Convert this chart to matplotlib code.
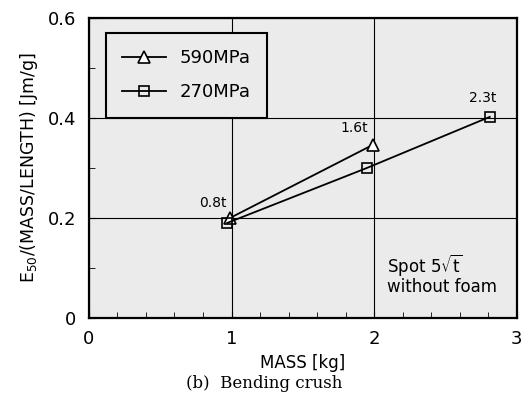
import matplotlib.pyplot as plt
from matplotlib.ticker import MultipleLocator

# data
mass_590 = [0.99, 1.99]
e50_590 = [0.200, 0.346]
mass_270 = [0.97, 1.95, 2.81]
e50_270 = [0.190, 0.300, 0.402]

thick_labels = ['0.8t', '1.6t', '2.3t']
thick_x = [0.87, 1.86, 2.76]
thick_y = [0.23, 0.38, 0.44]

fig = plt.figure(figsize=(5.29, 3.96), dpi=100)
ax = fig.add_axes([0.168, 0.197, 0.809, 0.758])
ax.set_facecolor('#ebebeb')

ax.plot(mass_590, e50_590, color='black', lw=1.3, marker='^', ms=8,
        mfc='white', mec='black', mew=1.2, label='590MPa')
ax.plot(mass_270, e50_270, color='black', lw=1.3, marker='s', ms=7.5,
        mfc='none', mec='black', mew=1.2, label='270MPa')

for lab, x, y in zip(thick_labels, thick_x, thick_y):
    ax.text(x, y, lab, fontsize=10, ha='center', va='center')

ax.text(2.09, 0.088, 'Spot 5$\\sqrt{\\mathrm{t}}$\nwithout foam', fontsize=12,
        ha='left', va='center', linespacing=1.05)

ax.set_xlim(0, 3)
ax.set_ylim(0, 0.6)
ax.xaxis.set_minor_locator(MultipleLocator(0.2))
ax.yaxis.set_minor_locator(MultipleLocator(0.1))
ax.set_xticks([0, 1, 2, 3])
ax.set_xticklabels(['0', '1', '2', '3'])
ax.set_yticks([0, 0.2, 0.4, 0.6])
ax.set_yticklabels(['0', '0.2', '0.4', '0.6'])
ax.tick_params(which='both', direction='in', top=False, right=False)
ax.tick_params(which='major', length=5, labelsize=13, pad=9)
ax.tick_params(which='minor', length=4)
ax.grid(which='major', color='black', lw=0.8)
for s in ax.spines.values():
    s.set_linewidth(1.6)

ax.set_ylabel('E$_{50}$/(MASS/LENGTH) [Jm/g]', fontsize=12.5, labelpad=6)
ax.set_xlabel('MASS [kg]', fontsize=12, labelpad=4)
fig.text(0.5, 0.01, '(b)  Bending crush', fontsize=12, family='serif',
         ha='center', va='bottom')

leg = ax.legend(loc='upper left', bbox_to_anchor=(0.04, 0.95), fontsize=13,
                frameon=True, fancybox=False, handlelength=2.4,
                borderpad=0.9, labelspacing=0.9, borderaxespad=0)
leg.get_frame().set_edgecolor('black')
leg.get_frame().set_linewidth(1.5)
leg.get_frame().set_facecolor('#ebebeb')
leg.get_frame().set_alpha(1)

fig.savefig('out.png', dpi=100)
